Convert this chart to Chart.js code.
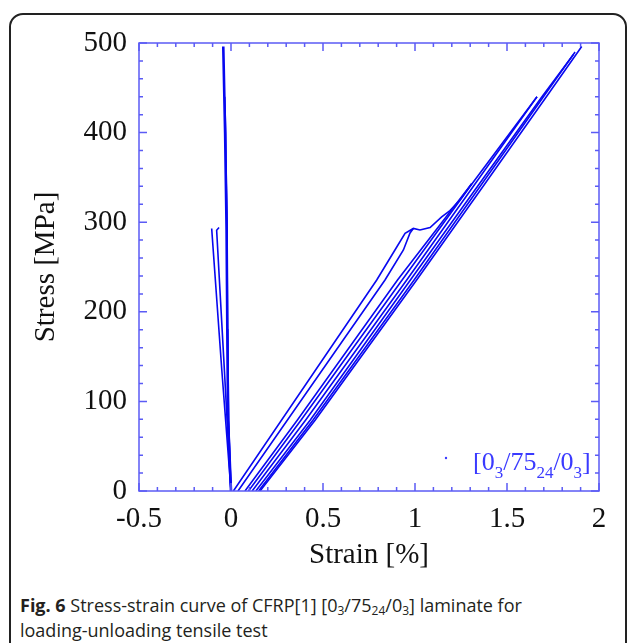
<!DOCTYPE html>
<html><head><meta charset="utf-8">
<script src="https://cdn.jsdelivr.net/npm/chart.js@4/dist/chart.umd.min.js"></script>
<style>
html,body{margin:0;padding:0;background:#fff;width:629px;height:643px;overflow:hidden;}
#frame{position:absolute;left:9px;top:13px;width:618px;height:660px;border:2px solid #222;border-radius:14px;box-sizing:border-box;}
#wrap{position:absolute;left:0;top:0;width:629px;height:575px;}
#cap{position:absolute;left:20px;top:593px;width:605px;font-family:"Open Sans",sans-serif;font-size:18px;line-height:25px;color:#231f20;}
#cap sub{font-size:12px;vertical-align:-3px;line-height:0;}
</style></head>
<body>
<div id="frame"></div>
<div id="wrap"><canvas id="c" width="629" height="575"></canvas></div>
<div id="cap"><b>Fig. 6</b> Stress-strain curve of CFRP[1] [0<sub>3</sub>/75<sub>24</sub>/0<sub>3</sub>] laminate for<br>loading-unloading tensile test</div>
<script>
// ---- data: [strain %, stress MPa] ----
const transMain  = [[0,0],[-0.016,79],[-0.020,180],[-0.024,291],[-0.032,400],[-0.042,496]];
const transMid   = [[0,0],[-0.014,79],[-0.019,180],[-0.022,291],[-0.029,400],[-0.034,440]];
const transLow   = [[0,0],[-0.013,79],[-0.018,180],[-0.021,291],[-0.026,343]];
const transShort1 = [[0,0],[-0.05,135],[-0.105,293]];
const transShort2 = [[0,0],[-0.04,150],[-0.078,291],[-0.065,294]];
const loadA = [[0.013,0],[0.792,235.5],[0.891,269],[0.946,287.6],[0.991,293],[1.027,291.3],[1.082,294],[1.145,306],[1.19,313],[1.245,325],[1.308,343]];
const loadB = [[0.038,0],[0.837,235.5],[0.937,269],[0.973,288],[0.991,293]];
const cyc1 = [[0.076,0],[0.36,79],[0.905,235.5],[1.308,343]];
const cyc2 = [[0.095,0],[0.38,79],[0.93,235.5],[1.31,343],[1.663,440]];
const cyc3 = [[0.115,0],[0.405,79],[0.955,235.5],[1.327,343],[1.663,440]];
const cyc4 = [[0.135,0],[0.43,79],[0.975,235.5],[1.35,343],[1.69,440],[1.86,487]];
const cyc5 = [[0.15,0],[0.445,79],[0.995,235.5],[1.364,343],[1.698,440],[1.87,490]];
const cyc6 = [[0.158,0],[0.457,79],[1.009,235.5],[1.38,343],[1.714,440],[1.906,496]];
const xTickLabels = ["-0.5","0","0.5","1","1.5","2"];
const yTickLabels = ["0","100","200","300","400","500"];
const xTitle = "Strain [%]";
const yTitle = "Stress [MPa]";

const curves = [transMain, transMid, transLow, transShort1, transShort2, loadA, loadB, cyc1, cyc2, cyc3, cyc4, cyc5, cyc6];
const LINE = '#0808f0';
const datasets = curves.map((c, i) => ({
  data: c.map(p => ({x: p[0], y: p[1]})),
  showLine: true, pointRadius: 0, borderColor: LINE, borderWidth: i === 0 ? 2.6 : 1.6, fill: false, tension: 0
}));

const serif = "'Liberation Serif', 'Times New Roman', serif";

const framePlugin = {
  id: 'frameTicks',
  afterDatasetsDraw(chart) {
    const {ctx, chartArea: a, scales: {x, y}} = chart;
    ctx.save();
    ctx.strokeStyle = '#5b5bf5';
    ctx.lineWidth = 1.5;
    ctx.strokeRect(a.left, a.top, a.right - a.left, a.bottom - a.top);
    ctx.beginPath();
    for (let k = 0; k <= 25; k++) {
      const v = -0.5 + k * 0.1;
      const px = x.getPixelForValue(v);
      const len = (k % 5 === 0) ? 8 : 4;
      ctx.moveTo(px, a.bottom); ctx.lineTo(px, a.bottom - len);
      ctx.moveTo(px, a.top); ctx.lineTo(px, a.top + len);
    }
    for (let k = 0; k <= 25; k++) {
      const v = k * 20;
      const py = y.getPixelForValue(v);
      const len = (k % 5 === 0) ? 8 : 4;
      ctx.moveTo(a.left, py); ctx.lineTo(a.left + len, py);
      ctx.moveTo(a.right, py); ctx.lineTo(a.right - len, py);
    }
    ctx.stroke();
    // legend
    const lx = a.right - 126, ly = a.bottom - 21;
    ctx.fillStyle = '#3a3aff';
    ctx.beginPath(); ctx.arc(a.right - 153, a.bottom - 33, 1.2, 0, Math.PI * 2); ctx.fill();
    const parts = [["[0", 0], ["3", 1], ["/75", 0], ["24", 1], ["/0", 0], ["3", 1], ["]", 0]];
    let cx = lx;
    ctx.textBaseline = 'alphabetic';
    for (const [t, sub] of parts) {
      ctx.font = (sub ? '17px ' : '26px ') + serif;
      ctx.fillText(t, cx, ly + (sub ? 8 : 0));
      cx += ctx.measureText(t).width;
    }
    ctx.restore();
  }
};

new Chart(document.getElementById('c'), {
  type: 'scatter',
  data: {datasets},
  options: {
    responsive: false, animation: false,
    layout: {padding: {left: 0, top: 43, right: 30, bottom: 0}},
    plugins: {legend: {display: false}, tooltip: {enabled: false}},
    scales: {
      x: {
        type: 'linear', min: -0.5, max: 2,
        afterFit(s) { s.height = 84; },
        grid: {display: false, drawTicks: false}, border: {display: false},
        ticks: {stepSize: 0.5, padding: 11, color: '#111', font: {family: serif, size: 29},
          callback: (v, i) => xTickLabels[i]},
        title: {display: true, text: xTitle, color: '#111', font: {family: serif, size: 29}, padding: {top: 0, bottom: 2}}
      },
      y: {
        type: 'linear', min: 0, max: 500,
        afterFit(s) { s.width = 139; },
        grid: {display: false, drawTicks: false}, border: {display: false},
        ticks: {stepSize: 100, padding: 12, color: '#111', font: {family: serif, size: 29},
          callback: (v, i) => yTickLabels[i]},
        title: {display: true, text: yTitle, color: '#111', font: {family: serif, size: 29}, padding: {top: 29, bottom: 0}}
      }
    }
  },
  plugins: [framePlugin]
});
</script>
</body></html>
